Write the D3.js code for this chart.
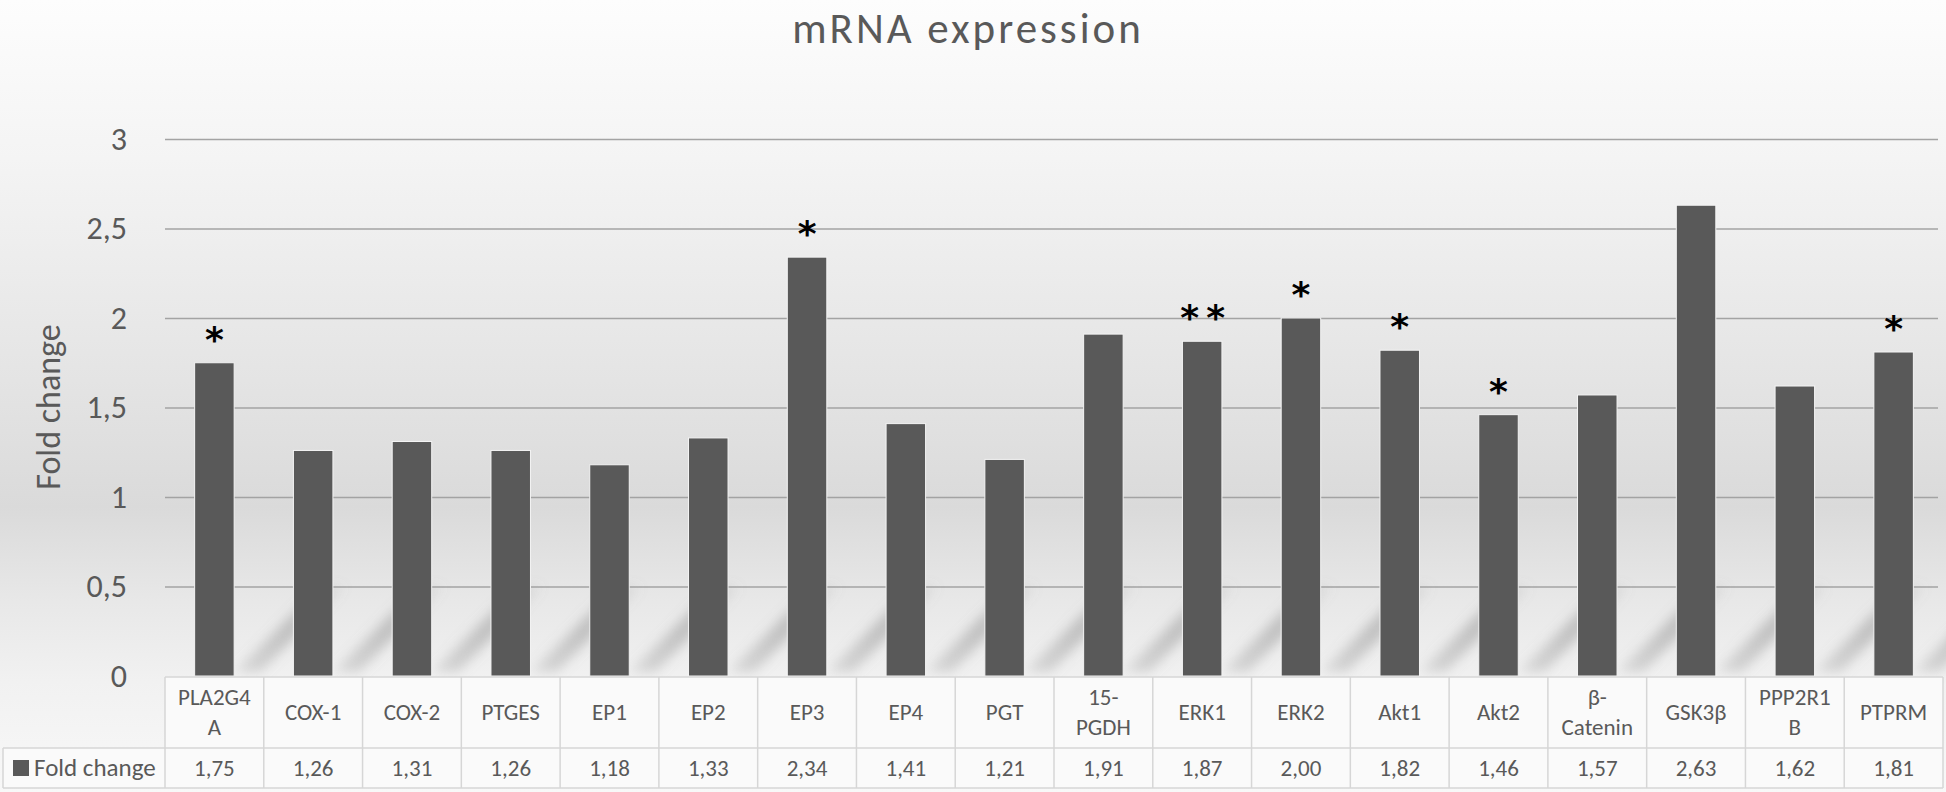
<html>
<head>
<style>
body { margin: 0; background: #ffffff; }
text { font-family: Carlito, Lato, "Open Sans", sans-serif; fill: #595959; }
.title { font-size: 43px; text-anchor: middle; letter-spacing: 3px; }
.tick text { font-size: 32px; }
.cell text { font-size: 23px; text-anchor: middle; }
.star { font-family: "DejaVu Sans", sans-serif; font-weight: bold; fill: #000; font-size: 36px; text-anchor: middle; }
</style>
<script src="https://d3js.org/d3.v7.min.js"></script>
</head>
<body>
<svg width="1946" height="792"></svg>
<script>
// chart data
var categories = ["PLA2G4A", "COX-1", "COX-2", "PTGES", "EP1", "EP2", "EP3", "EP4", "PGT",
                  "15-PGDH", "ERK1", "ERK2", "Akt1", "Akt2", "β-Catenin", "GSK3β", "PPP2R1B", "PTPRM"];
var categoryLines = [["PLA2G4", "A"], ["COX-1"], ["COX-2"], ["PTGES"], ["EP1"], ["EP2"], ["EP3"], ["EP4"], ["PGT"],
                     ["15-", "PGDH"], ["ERK1"], ["ERK2"], ["Akt1"], ["Akt2"], ["β-", "Catenin"], ["GSK3β"], ["PPP2R1", "B"], ["PTPRM"]];
var foldChange = [1.75, 1.26, 1.31, 1.26, 1.18, 1.33, 2.34, 1.41, 1.21, 1.91, 1.87, 2.00, 1.82, 1.46, 1.57, 2.63, 1.62, 1.81];
var significance = ["*", "", "", "", "", "", "*", "", "", "", "**", "*", "*", "*", "", "", "", "*"];
var yTicks = [0, 0.5, 1, 1.5, 2, 2.5, 3];
var seriesName = "Fold change";

var svg = d3.select("svg"),
    width = +svg.attr("width"),
    height = +svg.attr("height");

var plotLeft = 165, plotRight = 1943, plotTop = 139, plotBottom = 676;
var row1 = 677, row2 = 748, row3 = 788;

var locale = d3.formatLocale({decimal: ",", thousands: ".", grouping: [3], currency: ["", ""]});
var fmt2 = locale.format(".2f");

var defs = svg.append("defs");
var bg = defs.append("linearGradient").attr("id", "bg")
    .attr("x1", 0).attr("y1", 0).attr("x2", 0).attr("y2", 1);
bg.append("stop").attr("offset", "0%").attr("stop-color", "#fdfdfd");
bg.append("stop").attr("offset", "20%").attr("stop-color", "#f4f4f4");
bg.append("stop").attr("offset", "48%").attr("stop-color", "#e4e4e4");
bg.append("stop").attr("offset", "64%").attr("stop-color", "#dadada");
bg.append("stop").attr("offset", "76%").attr("stop-color", "#e8e8e8");
bg.append("stop").attr("offset", "86%").attr("stop-color", "#f1f1f1");
bg.append("stop").attr("offset", "100%").attr("stop-color", "#f8f8f8");

var sh = defs.append("linearGradient").attr("id", "shade")
    .attr("x1", 0).attr("y1", 0).attr("x2", 1).attr("y2", 0);
sh.append("stop").attr("offset", "0%").attr("stop-color", "#8a8a8a").attr("stop-opacity", 0.2);
sh.append("stop").attr("offset", "50%").attr("stop-color", "#8a8a8a").attr("stop-opacity", 0.45);
sh.append("stop").attr("offset", "100%").attr("stop-color", "#8a8a8a").attr("stop-opacity", 0.05);

defs.append("filter").attr("id", "blur").attr("x", "-50%").attr("y", "-50%").attr("width", "200%").attr("height", "200%")
    .append("feGaussianBlur").attr("stdDeviation", 6);

svg.append("rect").attr("width", width).attr("height", height).attr("fill", "url(#bg)");

var x = d3.scaleBand().domain(categories).range([plotLeft, plotRight]).paddingInner(0.6).paddingOuter(0.3);
var xc = d3.scaleBand().domain(categories).range([plotLeft, plotRight]);
var y = d3.scaleLinear().domain([0, 3]).range([plotBottom, plotTop]);

// title
svg.append("text").attr("class", "title").attr("x", 968).attr("y", 43).text("mRNA expression");

// y axis
var yAxis = svg.append("g")
    .attr("transform", "translate(" + plotLeft + ",0)")
    .call(d3.axisLeft(y).tickValues(yTicks).tickSize(-(plotRight - plotLeft - 5)).tickPadding(38)
          .tickFormat(function(d) { return String(d).replace(".", ","); }));
yAxis.select(".domain").remove();
yAxis.selectAll(".tick line").attr("stroke", "#a3a3a3").attr("stroke-width", 1.5);
yAxis.selectAll(".tick").filter(function(d) { return d === 0; }).select("line").remove();
yAxis.selectAll(".tick text").attr("fill", "#595959");

svg.append("text")
    .attr("transform", "translate(60,407) rotate(-90)")
    .attr("text-anchor", "middle")
    .style("font-size", "34px")
    .text("Fold change");

// diagonal shadows behind bars
svg.append("g").selectAll("polygon")
    .data(categories)
    .join("polygon")
    .attr("points", function(d) {
        var xr = x(d) + x.bandwidth(), y0 = y(0);
        return [[xr, y0 - 4], [xr + 26, y0 - 4], [xr + 112, y0 - 90], [xr + 86, y0 - 90]].join(" ");
    })
    .attr("fill", "url(#shade)")
    .attr("filter", "url(#blur)");

// bars
svg.append("g").selectAll("rect")
    .data(foldChange)
    .join("rect")
    .attr("x", function(d, i) { return x(categories[i]); })
    .attr("y", function(d) { return y(d); })
    .attr("width", x.bandwidth())
    .attr("height", function(d) { return y(0) - y(d); })
    .attr("fill", "#595959")
    .attr("stroke", "#f4f4f4")
    .attr("stroke-width", 1);

// significance marks
svg.append("g").selectAll("text")
    .data(foldChange)
    .join("text")
    .attr("class", "star")
    .attr("x", function(d, i) { return x(categories[i]) + x.bandwidth() / 2 + (significance[i].length > 1 ? 4 : 0); })
    .attr("y", function(d) { return y(d) - 11; })
    .style("letter-spacing", function(d, i) { return significance[i].length > 1 ? "7px" : null; })
    .text(function(d, i) { return significance[i]; });

// data table
var table = svg.append("g").attr("class", "cell");
table.append("rect").attr("x", plotLeft).attr("y", row1).attr("width", plotRight - plotLeft).attr("height", row2 - row1)
    .attr("fill", "#fafafa");
table.append("rect").attr("x", 3).attr("y", row2).attr("width", plotRight - 3).attr("height", row3 - row2)
    .attr("fill", "#fafafa");

var lineColor = "#d6d6d6";
table.append("path")
    .attr("d", "M" + plotLeft + "," + row1 + "H" + plotRight + "M3," + row2 + "H" + plotRight + "M3," + row3 + "H" + plotRight)
    .attr("stroke", lineColor).attr("stroke-width", 1.5).attr("fill", "none");
table.selectAll("line.v")
    .data(categories.concat(["end"]))
    .join("line")
    .attr("class", "v")
    .attr("x1", function(d, i) { return plotLeft + i * xc.step(); })
    .attr("x2", function(d, i) { return plotLeft + i * xc.step(); })
    .attr("y1", row1).attr("y2", row3)
    .attr("stroke", lineColor).attr("stroke-width", 1.5);
table.append("line").attr("x1", 3).attr("x2", 3).attr("y1", row2).attr("y2", row3)
    .attr("stroke", lineColor).attr("stroke-width", 1.5);

table.selectAll("text.cat")
    .data(categories)
    .join("text")
    .attr("class", "cat")
    .attr("x", function(d) { return xc(d) + xc.bandwidth() / 2; })
    .attr("y", function(d, i) { return categoryLines[i].length > 1 ? 705 : 720; })
    .each(function(d, i) {
        var t = d3.select(this);
        categoryLines[i].forEach(function(line, k) {
            t.append("tspan").attr("x", xc(d) + xc.bandwidth() / 2).attr("dy", k ? 30 : 0).text(line);
        });
    });

table.selectAll("text.val")
    .data(foldChange)
    .join("text")
    .attr("class", "val")
    .attr("x", function(d, i) { return xc(categories[i]) + xc.bandwidth() / 2; })
    .attr("y", 776)
    .text(function(d) { return fmt2(d); });

table.append("rect").attr("x", 13).attr("y", 760).attr("width", 16).attr("height", 16).attr("fill", "#595959");
table.append("text").attr("x", 34).attr("y", 776).style("text-anchor", "start").style("font-size", "25px").text(seriesName);
</script>
</body>
</html>
